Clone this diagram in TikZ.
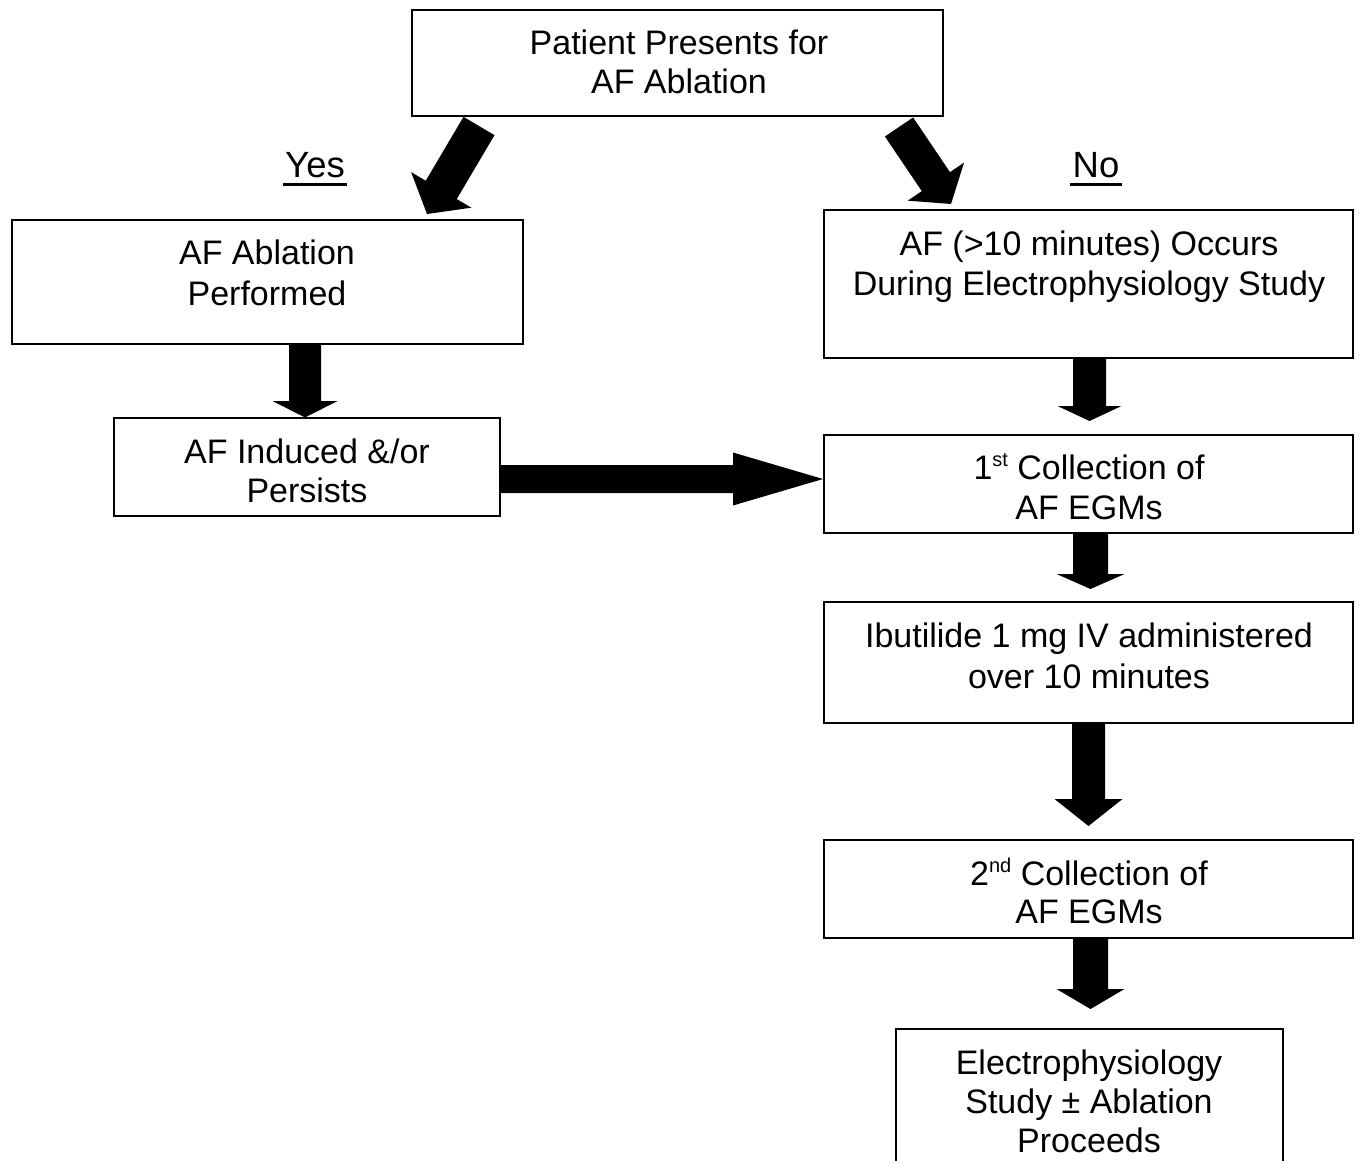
\documentclass[tikz,border=0pt]{standalone}
\usepackage{fontspec}
\setmainfont{Liberation Sans}
\usetikzlibrary{calc}
\newcommand\blkarrow[5]{%
  \coordinate (hb) at ($(#2)!#5!(#1)$);
  \fill[black] ($(#1)!#3!90:(#2)$) -- ($(hb)!#3!90:(#2)$) -- ($(hb)!#4!90:(#2)$)
    -- (#2) -- ($(hb)!#4!-90:(#2)$) -- ($(hb)!#3!-90:(#2)$) -- ($(#1)!#3!-90:(#2)$) -- cycle;
}
\begin{document}
\begin{tikzpicture}[x=1pt,y=-1pt,
  box/.style={draw, line width=2pt, inner sep=0pt, fill=white},
  txt/.style={anchor=base, inner sep=0pt, font=\fontsize{34}{40}\selectfont},
  lbl/.style={anchor=base, inner sep=0pt, font=\fontsize{36.5}{40}\selectfont},
  uline/.style={line width=2.5pt}]
\clip (0,0) rectangle (1360,1161);
\fill[white] (0,0) rectangle (1360,1161);
% boxes
\node[box, minimum width=531, minimum height=106] (top) at (677.5,63) {};
\node[box, minimum width=511, minimum height=124] (abl) at (267.5,282) {};
\node[box, minimum width=386, minimum height=98] (ind) at (307,467) {};
\node[box, minimum width=529, minimum height=148] (occ) at (1088.5,284) {};
\node[box, minimum width=529, minimum height=98] (c1) at (1088.5,484) {};
\node[box, minimum width=529, minimum height=121] (ibu) at (1088.5,662.5) {};
\node[box, minimum width=529, minimum height=98] (c2) at (1088.5,889) {};
\node[box, minimum width=387, minimum height=160] (eps) at (1089.5,1109) {};
% texts
\node[txt] (t1a) at (679,54.5) {Patient Presents for};
\node[txt] (t1b) at (679,93.5) {AF Ablation};
\node[lbl] (yes) at (315,178) {Yes};
\draw[uline] ($(yes.base west)+(-2,6.5)$) -- ($(yes.base east)+(2,6.5)$);
\node[lbl] (no) at (1096,178) {No};
\draw[uline] ($(no.base west)+(-2,6.5)$) -- ($(no.base east)+(2,6.5)$);
\node[txt] (t2a) at (267,264.5) {AF Ablation};
\node[txt] (t2b) at (267,305.5) {Performed};
\node[txt] (t3a) at (307,463.5) {AF Induced \&/or};
\node[txt] (t3b) at (307,502) {Persists};
\node[txt] (t4a) at (1089,255) {AF (>10 minutes) Occurs};
\node[txt] (t4b) at (1089,295) {During Electrophysiology Study};
\node[txt] (t5a) at (1089,479.5) {1\raisebox{13pt}{\fontsize{20}{20}\selectfont st} Collection of};
\node[txt] (t5b) at (1089,519) {AF EGMs};
\node[txt] (t6a) at (1089,647.5) {Ibutilide 1 mg IV administered};
\node[txt] (t6b) at (1089,688) {over 10 minutes};
\node[txt] (t7a) at (1089,885) {2\raisebox{13pt}{\fontsize{20}{20}\selectfont nd} Collection of};
\node[txt] (t7b) at (1089,923.5) {AF EGMs};
\node[txt] (t8a) at (1089,1074) {Electrophysiology};
\node[txt] (t8b) at (1089,1113) {Study ± Ablation};
\node[txt] (t8c) at (1089,1152) {Proceeds};
% arrow endpoints
\coordinate (d1s) at ($(top.south west)+(68,9)$);
\coordinate (d1e) at ($(abl.north west)+(416,-5)$);
\coordinate (d2s) at ($(top.south west)+(488,10)$);
\coordinate (d2e) at ($(occ.north west)+(128,-5)$);
\coordinate (v0s) at (abl.south -| 305,0);
\coordinate (v0e) at ($(ind.north)+(-2,0.5)$);
\coordinate (hs) at ($(ind.east)+(0,12)$);
\coordinate (he) at ($(c1.west)+(0,-5)$);
\coordinate (v1s) at ($(occ.south)+(1,0)$);
\coordinate (v1e) at ($(c1.north)+(1,-13)$);
\coordinate (v2s) at ($(c1.south)+(2,0)$);
\coordinate (v2e) at ($(ibu.north)+(2,-12)$);
\coordinate (v3s) at ($(ibu.south)+(0,0)$);
\coordinate (v3e) at ($(c2.north)+(0,-13)$);
\coordinate (v4s) at ($(c2.south)+(2,0)$);
\coordinate (v4e) at ($(eps.north)+(1,-19)$);
% block arrows
\blkarrow{d1s}{d1e}{18pt}{35pt}{28pt}
\blkarrow{d2s}{d2e}{17pt}{34pt}{27pt}
\blkarrow{v0s}{v0e}{16pt}{32.5pt}{16.5pt}
\blkarrow{hs}{he}{14pt}{26.5pt}{90pt}
\blkarrow{v1s}{v1e}{16.5pt}{32pt}{15pt}
\blkarrow{v2s}{v2e}{17.5pt}{34pt}{15pt}
\blkarrow{v3s}{v3e}{16.5pt}{34pt}{27pt}
\blkarrow{v4s}{v4e}{17.5pt}{34pt}{20pt}
\end{tikzpicture}
\end{document}
